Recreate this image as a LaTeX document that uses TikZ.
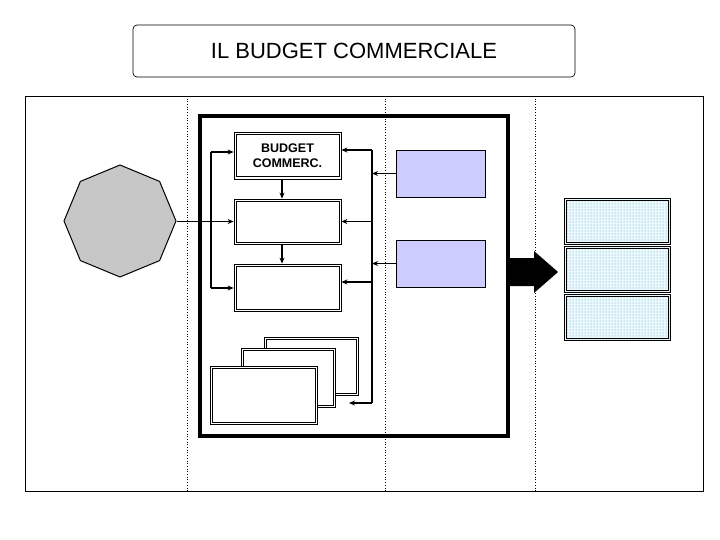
\documentclass[tikz,border=0pt]{standalone}
\usepackage{fontspec}
\setmainfont{Liberation Sans}
\usetikzlibrary{arrows.meta,patterns,shapes.geometric}
\begin{document}
\begin{tikzpicture}[x=1pt,y=-1pt,
  dbl/.style={draw,line width=0.8pt},
  arr/.style={-{Stealth[length=6pt,width=5pt]},line width=1.4pt},
  ln/.style={line width=1.4pt},
  dv/.style={dotted,line width=0.7pt}]
\useasboundingbox (0,0) rectangle (720,540);
\newcommand\inner[1]{\draw[line width=0.8pt] ([xshift=2.5pt,yshift=2.5pt]#1.south west) rectangle ([xshift=-2.5pt,yshift=-2.5pt]#1.north east);}
\node[draw,rounded corners=4pt,minimum width=442pt,minimum height=52pt,line width=0.7pt,font=\fontsize{22}{26}\selectfont] (title) at (354,51) {IL BUDGET COMMERCIALE};
\draw[line width=0.7pt] (25,96) rectangle (703,491);
\foreach \x in {187,385,535} \draw[dv] (\x,96) -- (\x,491);
\draw[line width=3.5pt,fill=white] (200,116) rectangle (508,436);
\draw[dv] (385,116) -- (385,436);
\node[draw,fill=black!22,regular polygon,regular polygon sides=8,minimum size=112pt,line width=1pt,shape border rotate=22.5] (oct) at (120,221) {};
\node[dbl,fill=white,minimum width=107pt,minimum height=47pt,align=center,font=\bfseries\fontsize{12.5}{15}\selectfont] (b1) at (287.5,155.5) {BUDGET\\COMMERC.};
\inner{b1}
\node[dbl,minimum width=107pt,minimum height=45pt] (b2) at (287.5,221.5) {}; \inner{b2}
\node[dbl,minimum width=107pt,minimum height=47pt] (b3) at (287.5,287.5) {}; \inner{b3}
\node[dbl,fill=white,minimum width=94pt,minimum height=58pt] (s3) at (311,366) {}; \inner{s3}
\node[dbl,fill=white,minimum width=94pt,minimum height=59pt] (s2) at (288,377.5) {}; \inner{s2}
\node[dbl,fill=white,minimum width=107pt,minimum height=58pt] (s1) at (263.5,395) {}; \inner{s1}
\node[draw,fill={rgb,255:red,204;green,204;blue,255},minimum width=89pt,minimum height=47pt,line width=0.7pt] (p1) at (440.5,173.5) {};
\node[draw,fill={rgb,255:red,204;green,204;blue,255},minimum width=89pt,minimum height=47pt,line width=0.7pt] (p2) at (440.5,263.5) {};
\foreach \n/\y in {r1/221.5,r2/269.5,r3/317.5}{
  \fill[cyan!8] (565,\y-23) rectangle (670,\y+23);
  \fill[pattern=dots,pattern color=teal!70] (565,\y-23) rectangle (670,\y+23);
  \node[dbl,minimum width=106pt,minimum height=46pt] (\n) at (617.5,\y) {}; \inner{\n}
}
\coordinate (lt) at (211,152); \coordinate (lb) at (211,288);
\coordinate (rt) at (372,150); \coordinate (rb) at (372,403);
\draw[ln] (lt) -- (lb);
\draw[arr] (lt) -- (lt -| b1.west);
\draw[arr] (lb) -- (lb -| b3.west);
\draw[arr] (oct.east |- b2.west) -- (b2.west);
\draw[ln] (rt) -- (rb);
\draw[arr] (rt) -- (rt -| b1.east);
\draw[arr] (372,221.5) -- (b2.east);
\draw[arr] (372,282) -- (372,282 -| b3.east);
\draw[arr] (p1.west) -- (p1.west -| rt);
\draw[arr] (p2.west) -- (p2.west -| rt);
\draw[arr] (rb) -- (349,403);
\draw[arr] (282,0 |- b1.south) -- (282,0 |- b2.north);
\draw[arr] (282,0 |- b2.south) -- (282,0 |- b3.north);
\fill (508,258) -- (534,258) -- (534,251) -- (558,272) -- (534,293) -- (534,286) -- (508,286) -- cycle;
\end{tikzpicture}
\end{document}
